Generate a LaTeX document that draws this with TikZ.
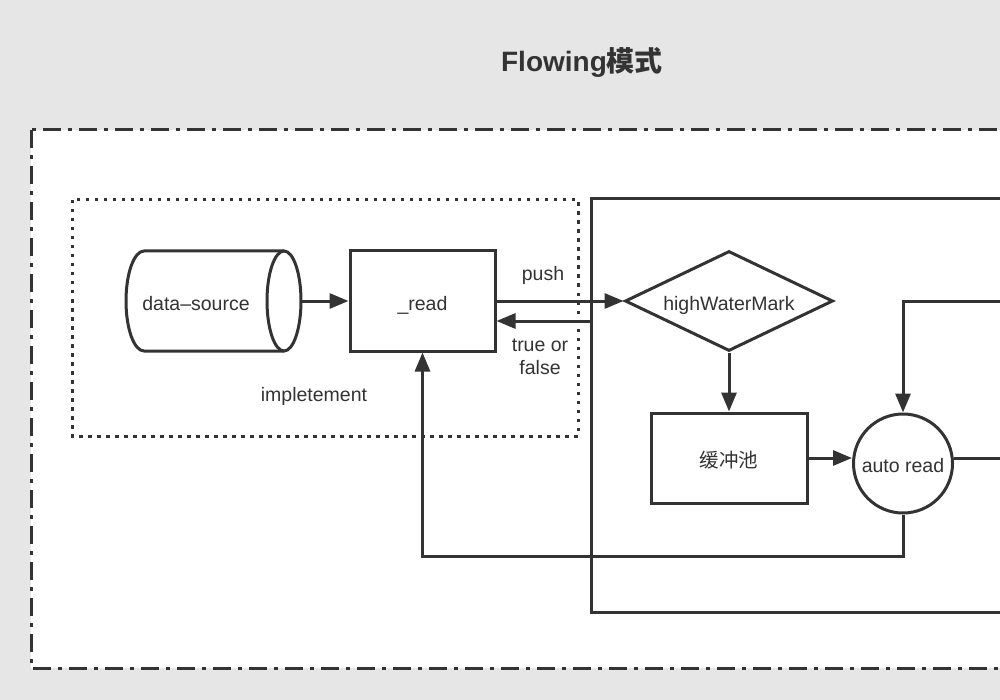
\documentclass[tikz,border=0pt]{standalone}
\usepackage{fontspec}
\setmainfont{Liberation Sans}
\newfontfamily\cjk{Noto Sans CJK SC}
\usetikzlibrary{arrows.meta,shapes.geometric}
\definecolor{ink}{HTML}{333333}
\definecolor{bg}{HTML}{E6E6E6}
\begin{document}
\begin{tikzpicture}[x=1pt,y=-1pt,
  line/.style={draw=ink, line width=3pt},
  arr/.style={line, -{Triangle[length=19pt,width=15pt]}},
  box/.style={draw=ink, line width=3pt, fill=white, text=ink, inner sep=0pt,
    text height=18pt, text depth=0pt, font=\fontsize{19.5}{23}\selectfont},
  lbl/.style={text=ink, align=center, inner sep=0pt, anchor=base, font=\fontsize{19.5}{23}\selectfont}]
\fill[bg] (0,0) rectangle (1000,700);
\useasboundingbox (0,0) rectangle (1000,700);
\clip (0,0) rectangle (1000,700);
% frames
\draw[draw=ink, line width=3pt, dash pattern=on 18pt off 7pt on 4pt off 7pt, fill=white] (31,130) rectangle (1020,668);
\draw[draw=ink, line width=3pt, dash pattern=on 3.5pt off 5.5pt] (72,200) rectangle (578,436);
\draw[line] (591,199) rectangle (1020,612);
% title
\node[text=ink, anchor=base, inner sep=0pt, font=\bfseries\fontsize{28}{32}\selectfont] (title) at (582,72) {Flowing{\cjk 模式}};
% data source cylinder
\node[minimum width=176pt, minimum height=100pt, inner sep=0pt] (ds) at (214,301) {};
\draw[line, fill=white] (284,251) -- (144,251) arc[start angle=270, end angle=90, x radius=18, y radius=50] -- (284,351);
\draw[line, fill=white] (284,301) ellipse[x radius=17, y radius=50];
\node[lbl] (dstext) at (196,310) {data\textendash source};
% nodes
\node[box, minimum width=145pt, minimum height=100pt] (rd) at (422.5,301) {\_read};
\node[box, diamond, shape aspect=2.08, minimum width=208pt, minimum height=100pt] (hw) at (729,301) {highWaterMark};
\node[box, minimum width=156pt, minimum height=90pt] (buf) at (729,458) {\cjk 缓冲池};
\node[box, circle, minimum size=99pt] (ar) at (903,463.5) {auto read};
% labels
\node[lbl] (push) at (543,280) {push};
\node[lbl] (tf) at (540,374) {true or\\false};
\node[lbl] (impl) at (314,401.5) {impletement};
% connectors
\coordinate (ret) at (591,321);
\coordinate (rin) at (1010,301);
\coordinate (rout) at (1010,458);
\draw[arr] (ds.east) -- (rd.west);
\draw[arr] (rd.east) -- (hw.west);
\draw[arr] (ret) -- (rd.east |- ret);
\draw[arr] (hw.south) -- (buf.north);
\draw[arr] (buf.east) -- (buf.east -| ar.west);
\draw[arr] (rin) -| (ar.north);
\draw[line] (ar.6) -- (ar.6 -| rout);
\draw[arr] (ar.south) -- ++(0,42) -| (rd.south);
\end{tikzpicture}
\end{document}
